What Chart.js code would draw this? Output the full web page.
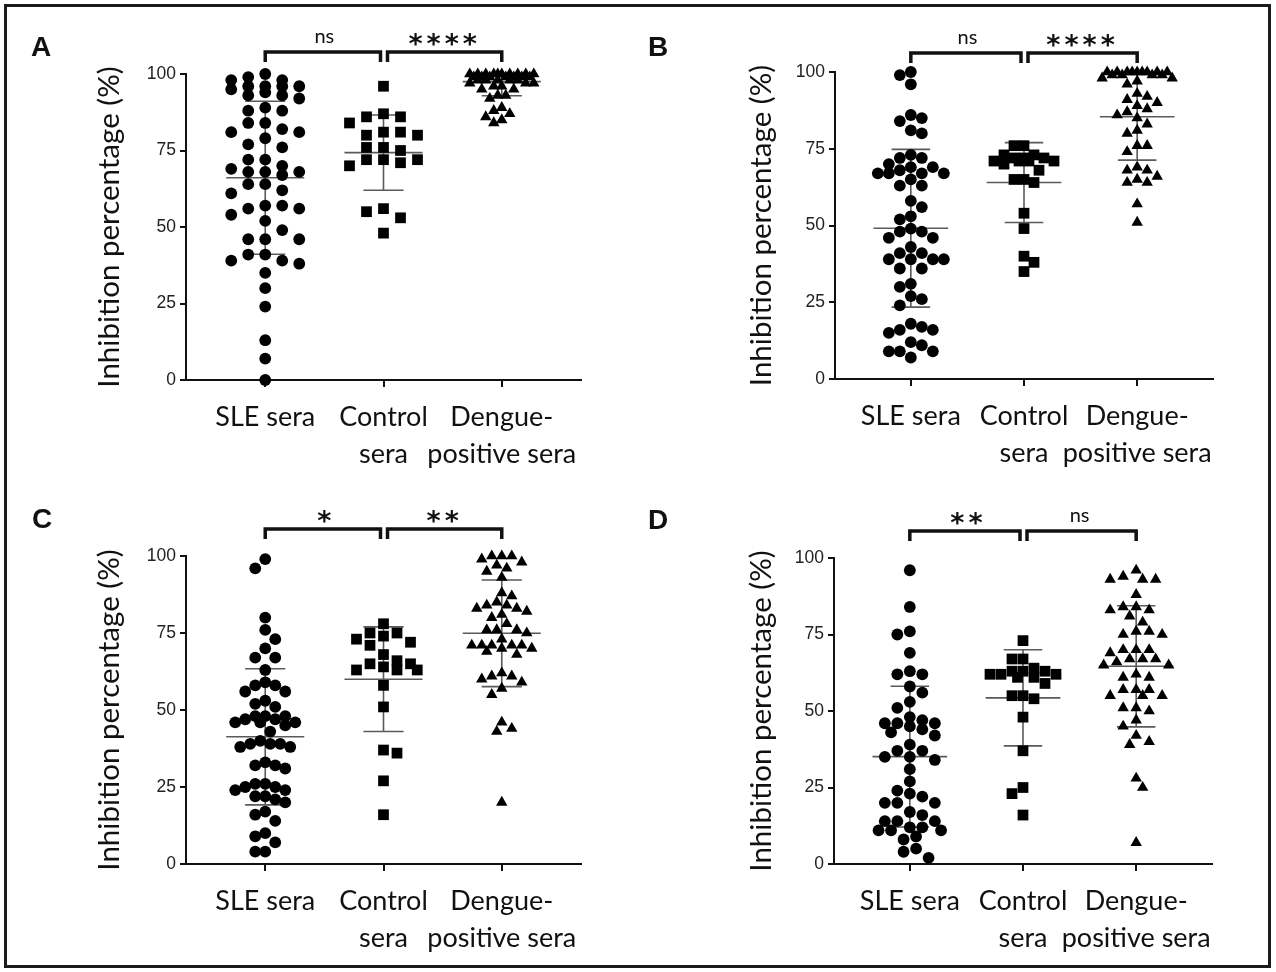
<!DOCTYPE html>
<html>
<head>
<meta charset="utf-8">
<script src="https://cdn.jsdelivr.net/npm/chart.js@4.4.1/dist/chart.umd.min.js"></script>
<style>
  body { margin: 0; background: #fff; }
  #page { position: relative; width: 1276px; height: 972px; background: #fff; overflow: hidden; }
  canvas { position: absolute; }
  .frame { position: absolute; left: 4px; top: 4px; width: 1267px; height: 964px; border: 3px solid #1b1b1b; box-sizing: border-box; pointer-events: none; }
  .tag { position: absolute; font: bold 28px "Liberation Sans", Arial, sans-serif; line-height: 28px; color: #111; }
</style>
</head>
<body>
<div id="page">
  <canvas id="chartA" width="620" height="480" style="left:0;top:0;width:620px;height:480px"></canvas>
  <canvas id="chartB" width="636" height="480" style="left:640px;top:0;width:636px;height:480px"></canvas>
  <canvas id="chartC" width="620" height="492" style="left:0;top:480px;width:620px;height:492px"></canvas>
  <canvas id="chartD" width="636" height="492" style="left:640px;top:480px;width:636px;height:492px"></canvas>
  <div class="tag" style="left:31px;top:33px">A</div>
  <div class="tag" style="left:648px;top:33px">B</div>
  <div class="tag" style="left:32px;top:505px">C</div>
  <div class="tag" style="left:648px;top:506px">D</div>
  <div class="frame"></div>
</div>
<script>
const groups = ["SLE sera", "Control sera", "Dengue-positive sera"];
const xTickLabels = [["SLE sera"], ["Control", "sera"], ["Dengue-", "positive sera"]];
const yTicks = [0, 25, 50, 75, 100];
const yTitle = "Inhibition percentage (%)";

// A
const sleA = [100, 99, 98, 98, 96, 96, 96, 96, 95, 94, 93, 93, 92, 89, 88, 88, 84, 84, 82, 81, 81, 79, 77, 76,
  72, 72, 70, 69, 68, 68, 68, 67, 64, 64, 62, 61, 57, 57, 56, 56, 54, 52, 49, 46, 46, 46, 41, 41, 39, 39, 38,
  35, 30, 24, 13, 7, 0];
const controlA = [96, 87, 86, 86, 84, 81, 81, 80, 80, 76, 76, 75, 72, 72, 72, 71, 70, 56, 55, 53, 48];
const dengueA = [100, 100, 100, 100, 100, 100, 100, 100, 100, 100, 99, 99, 99, 99, 99, 99, 99, 98, 98, 98, 98, 98,
  97, 97, 97, 96, 96, 95, 95, 93, 93, 92, 89, 88, 87, 86, 85, 84];
const meanA = [66.1, 74.3, 97.5];
const sdA = [25.0, 12.3, 4.6];
const sigA = ["ns", "****"];

// B
const sleB = [100, 99, 96, 86, 85, 84, 81, 80, 73, 72, 72, 70, 69, 69, 68, 67, 67, 67, 67, 65, 63, 63, 58, 56,
  53, 52, 49, 48, 48, 46, 46, 43, 41, 41, 39, 39, 39, 39, 36, 36, 31, 30, 27, 26, 24, 18, 17, 16, 16, 15,
  12, 11, 9, 9, 9, 7];
const controlB = [76, 76, 73, 73, 72, 72, 72, 71, 71, 71, 71, 70, 68, 65, 65, 64, 54, 49, 40, 38, 35];
const dengueB = [100, 100, 100, 100, 100, 100, 100, 100, 100, 99, 99, 99, 99, 98, 98, 97, 96, 93, 92, 91, 90, 89,
  88, 87, 86, 85, 83, 81, 80, 76, 76, 74, 69, 68, 68, 66, 65, 64, 64, 57, 51];
const meanB = [49.1, 64.0, 85.4];
const sdB = [25.7, 13.0, 14.1];
const sigB = ["ns", "****"];

// C
const sleC = [99, 96, 80, 76, 73, 70, 67, 67, 63, 59, 58, 58, 56, 56, 53, 52, 51, 48, 48, 48, 47, 47, 46, 46, 46,
  45, 43, 40, 39, 39, 39, 38, 38, 33, 32, 32, 31, 26, 26, 25, 25, 24, 24, 22, 22, 21, 20, 17, 16, 14, 10, 9,
  7, 4, 4];
const controlC = [78, 75, 75, 74, 73, 72, 71, 68, 66, 65, 65, 64, 63, 63, 63, 58, 51, 37, 36, 27, 16];
const dengueC = [100, 100, 100, 99, 98, 97, 96, 95, 93, 88, 87, 85, 84, 84, 83, 83, 82, 81, 80, 78, 76, 76, 76,
  75, 73, 71, 71, 71, 71, 71, 70, 70, 69, 68, 62, 61, 61, 60, 59, 57, 55, 46, 44, 43, 20];
const meanC = [41.3, 60.0, 74.9];
const sdC = [22.1, 17.0, 17.3];
const sigC = ["*", "**"];

// D
const sleD = [96, 84, 76, 75, 69, 63, 62, 62, 58, 56, 53, 51, 48, 47, 46, 46, 46, 45, 44, 43, 42, 39, 37, 37,
  35, 35, 34, 31, 27, 24, 23, 22, 20, 20, 20, 17, 16, 14, 14, 14, 12, 12, 11, 11, 11, 9, 8, 5, 4, 2];
const controlD = [73, 67, 67, 64, 63, 63, 63, 62, 62, 62, 61, 61, 59, 55, 55, 54, 48, 37, 25, 23, 16];
const dengueD = [96, 94, 93, 93, 93, 88, 84, 84, 83, 83, 81, 79, 76, 76, 75, 75, 70, 70, 70, 69, 67, 67, 67, 66,
  65, 65, 62, 61, 61, 57, 57, 57, 55, 55, 55, 51, 51, 50, 47, 45, 42, 40, 39, 28, 25, 7];
const meanD = [35.1, 54.3, 64.6];
const sdD = [23.0, 15.7, 19.8];
const sigD = ["**", "ns"];

const shapes = ["circle", "rect", "triangle"];
const radii = [5.9, 7.6, 6.6];
const xMin = 0.33, xMax = 3.67;
const maxSpread = 35; // px each side of the category

// spread points sideways like a dot plot (offsets in px), never wider than maxSpread
function swarm(values, sx, sy, pxPerVal, stepFrac) {
  const order = values.map((v, i) => i).sort((a, b) => values[b] - values[a]);
  const step = sx * stepFrac;
  const steps = Math.floor((maxSpread + 0.5) / step);
  const cands = [0];
  for (let k = 1; k <= steps; k++) cands.push(-k * step, k * step);
  const placed = [];
  const out = new Array(values.length).fill(0);
  let flip = false;
  order.forEach(i => {
    const py = values[i] * pxPerVal;
    let best = 0, bestScore = -1;
    for (let j = 0; j < cands.length; j++) {
      const c = flip ? -cands[j] : cands[j];
      const score = placed.reduce((m, p) => Math.min(m, ((p.x - c) / sx) ** 2 + ((p.y - py) / sy) ** 2), Infinity);
      if (score >= 0.98) { best = c; break; }
      if (score > bestScore) { best = c; bestScore = score; }
    }
    if (best !== 0) flip = !flip;
    out[i] = best;
    placed.push({ x: best, y: py });
  });
  return out;
}

const errorBars = {
  id: "errorBars",
  beforeDatasetsDraw(chart, args, opts) {
    const { ctx, chartArea, scales: { x, y } } = chart;
    ctx.save();
    ctx.beginPath();
    ctx.rect(chartArea.left, chartArea.top - 2, chartArea.width, chartArea.height + 2);
    ctx.clip();
    ctx.strokeStyle = "#5a5a5a";
    ctx.lineWidth = 1.6;
    opts.mean.forEach((m, i) => {
      const c = i + 1;
      const cx = x.getPixelForValue(c);
      const hw = x.getPixelForValue(c + 0.33) - cx;
      const cw = x.getPixelForValue(c + 0.17) - cx;
      const yM = y.getPixelForValue(m);
      const yU = y.getPixelForValue(m + opts.sd[i]);
      const yL = y.getPixelForValue(m - opts.sd[i]);
      ctx.beginPath();
      ctx.moveTo(cx, yU); ctx.lineTo(cx, yL);
      ctx.moveTo(cx - hw, yM); ctx.lineTo(cx + hw, yM);
      ctx.moveTo(cx - cw, yU); ctx.lineTo(cx + cw, yU);
      ctx.moveTo(cx - cw, yL); ctx.lineTo(cx + cw, yL);
      ctx.stroke();
    });
    ctx.restore();
  }
};

const sigBrackets = {
  id: "sigBrackets",
  afterDraw(chart, args, opts) {
    const { ctx, scales: { x } } = chart;
    const p1 = x.getPixelForValue(1), p2 = x.getPixelForValue(2), p3 = x.getPixelForValue(3);
    const y0 = opts.y;
    ctx.save();
    ctx.strokeStyle = "#111";
    ctx.fillStyle = "#111";
    ctx.lineWidth = 3.5;
    [[p1, p2 - 3], [p2 + 4, p3]].forEach(([a, b]) => {
      ctx.beginPath();
      ctx.moveTo(a, y0 + 10); ctx.lineTo(a, y0); ctx.lineTo(b, y0); ctx.lineTo(b, y0 + 10);
      ctx.stroke();
    });
    ctx.textAlign = "center";
    ctx.textBaseline = "middle";
    opts.labels.forEach((t, i) => {
      const cx = i === 0 ? (p1 + p2) / 2 : (p2 + p3) / 2;
      if (t === "ns") {
        ctx.letterSpacing = "0px";
        ctx.font = "20px Lato";
        ctx.fillText(t, cx, y0 - 15);
      } else {
        ctx.letterSpacing = "4px";
        ctx.font = "bold 27px 'DejaVu Sans'";
        ctx.fillText(t, cx + 2, y0 - 6);
      }
    });
    ctx.restore();
  }
};

const panels = [
  { canvas: "chartA", data: [sleA, controlA, dengueA], mean: meanA, sd: sdA, sig: sigA,
    width: 620, height: 480, plot: { left: 186, top: 74, right: 581, bottom: 380 },
    titlePad: 92, bracketY: 52, spacing: [17, 17, 8], stepFrac: [1, 0.5, 0.5] },
  { canvas: "chartB", data: [sleB, controlB, dengueB], mean: meanB, sd: sdB, sig: sigB,
    width: 636, height: 480, plot: { left: 195, top: 72, right: 573, bottom: 379 },
    titlePad: 104, bracketY: 53, spacing: [11, 10, 10], stepFrac: [0.5, 0.5, 0.5] },
  { canvas: "chartC", data: [sleC, controlC, dengueC], mean: meanC, sd: sdC, sig: sigC,
    width: 620, height: 492, plot: { left: 186, top: 76, right: 581, bottom: 384 },
    titlePad: 92, bracketY: 49, spacing: [10, 13.5, 10], stepFrac: [0.5, 0.5, 0.5] },
  { canvas: "chartD", data: [sleD, controlD, dengueD], mean: meanD, sd: sdD, sig: sigD,
    width: 636, height: 492, plot: { left: 194, top: 78, right: 572, bottom: 384 },
    titlePad: 104, bracketY: 51, spacing: [12.5, 11, 13], stepFrac: [0.5, 0.5, 0.5] }
];

panels.forEach(p => {
  const plotW = p.plot.right - p.plot.left;
  const plotH = p.plot.bottom - p.plot.top;
  const pxPerCat = plotW / (xMax - xMin);
  const pxPerVal = plotH / 100;

  const datasets = p.data.map((vals, gi) => {
    const offs = swarm(vals, p.spacing[gi], gi === 2 ? 10 : 11, pxPerVal, p.stepFrac[gi]);
    return {
      label: groups[gi],
      data: vals.map((v, i) => ({ x: gi + 1 + offs[i] / pxPerCat, y: v })),
      pointStyle: shapes[gi],
      pointRadius: radii[gi],
      pointHoverRadius: radii[gi],
      pointBackgroundColor: "#000",
      pointBorderColor: "#000",
      pointBorderWidth: 0,
      showLine: false,
      clip: false
    };
  });

  new Chart(document.getElementById(p.canvas), {
    type: "scatter",
    data: { datasets },
    options: {
      responsive: false,
      animation: false,
      events: [],
      layout: { padding: { left: 0, top: p.plot.top, right: p.width - p.plot.right, bottom: 0 } },
      scales: {
        x: {
          type: "linear",
          min: xMin,
          max: xMax,
          afterBuildTicks: s => { s.ticks = [1, 2, 3].map(v => ({ value: v })); },
          afterFit: s => { s.height = p.height - p.plot.bottom; s.paddingLeft = 0; s.paddingRight = 0; },
          ticks: {
            autoSkip: false,
            maxRotation: 0,
            padding: 12,
            color: "#111",
            font: { family: "Lato", size: 27, lineHeight: 1.37 },
            callback: v => xTickLabels[v - 1]
          },
          grid: { drawOnChartArea: false, tickLength: 7, color: "#111", lineWidth: 2 },
          border: { color: "#111", width: 2 }
        },
        y: {
          min: 0,
          max: 100,
          afterBuildTicks: s => { s.ticks = yTicks.map(v => ({ value: v })); },
          afterFit: s => { s.width = p.plot.left; s.paddingTop = 0; s.paddingBottom = 0; },
          ticks: { padding: 4, color: "#222", font: { family: "Liberation Sans", size: 17.5 } },
          grid: { drawOnChartArea: false, tickLength: 6, color: "#111", lineWidth: 2 },
          border: { color: "#111", width: 2 },
          title: {
            display: true,
            text: yTitle,
            color: "#111",
            font: { family: "Lato", size: 29.5 },
            padding: { top: p.titlePad, bottom: 0 }
          }
        }
      },
      plugins: {
        legend: { display: false },
        tooltip: { enabled: false },
        errorBars: { mean: p.mean, sd: p.sd },
        sigBrackets: { y: p.bracketY, labels: p.sig }
      }
    },
    plugins: [errorBars, sigBrackets]
  });
});
</script>
</body>
</html>
